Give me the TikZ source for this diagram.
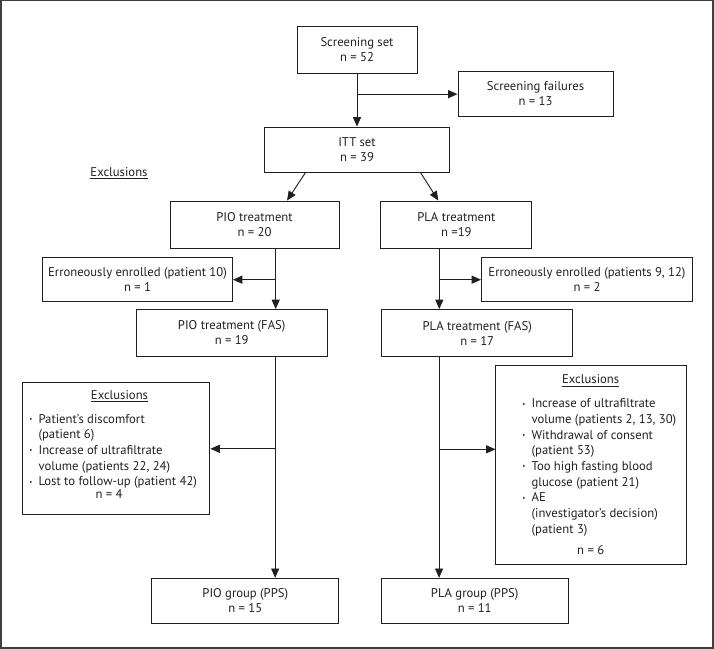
\documentclass[tikz,border=0pt]{standalone}
\usepackage{fontspec}
\setmainfont{PT Sans}
\usetikzlibrary{positioning,arrows.meta,calc}
\definecolor{ink}{HTML}{231F20}
\definecolor{rim}{HTML}{404040}
\newcommand{\blt}{\makebox[7pt][l]{\raisebox{1.2pt}{\fontsize{5}{5}\selectfont •}}}
\newcommand{\ind}{\hspace*{7pt}}
\tikzset{wh/.style 2 args={minimum width=#1*0.75pt,minimum height=#2*0.75pt}}

\begin{document}
\begin{tikzpicture}[x=0.75pt,y=-0.75pt,color=ink,font=\fontsize{9.5}{11.25}\selectfont]
  \tikzstyle{box}=[rectangle,draw,line width=0.7pt,align=center,inner sep=2pt]
  \tikzstyle{ar}=[line width=0.7pt,-{Triangle[length=7pt,width=6pt]}]
  \tikzstyle{lst}=[anchor=north west,align=left,inner sep=0pt,font=\fontsize{9.5}{11.75}\selectfont]
  \useasboundingbox (0,0) rectangle (714,649);
  \draw[rim,line width=1.5pt] (1,0.5) rectangle (713,648);
  % top part
  \node[box,wh={120}{47}] (scr) at (357,49.5) {Screening set\\n = 52};
  \node[box,wh={155}{45}] (fail) at (535.5,94) {Screening failures\\n = 13};
  \node[box,wh={185}{45}] (itt) at (357,149.5) {ITT set\\n = 39};
  \node (exhd) at (119,173) {\underline{Exclusions}};
  \node[box,wh={169}{47}] (pio) at (254.5,224.5) {PIO treatment\\n = 20};
  \node[box,wh={151}{47}] (pla) at (456.3,224.5) {PLA treatment\\n =19};
  \node[box,wh={190}{44}] (errL) at (137.5,279.7) {Erroneously enrolled (patient 10)\\n = 1};
  \node[box,wh={211}{44}] (errR) at (587,279.7) {Erroneously enrolled (patients 9, 12)\\n = 2};
  \node[box,wh={191}{47}] (fasL) at (231.7,333) {PIO treatment (FAS)\\n = 19};
  \node[box,wh={191}{47}] (fasR) at (477.2,333) {PLA treatment (FAS)\\n = 17};
  % exclusion boxes
  \node[box,wh={187.5}{132.3}] (exL) at (116.2,448.8) {};
  \node (exLhd) at (119.5,396) {\underline{Exclusions}};
  \node[lst] (exLls) at (29,414) {\blt Patient’s discomfort\\ \ind(patient 6)\\
    \blt Increase of ultrafiltrate\\ \ind volume (patients 22, 24)\\
    \blt Lost to follow-up (patient 42)};
  \node (exLn) at (109,494) {n = 4};
  \node[box,wh={190.7}{199}] (exR) at (591.3,464.5) {};
  \node (exRhd) at (590.7,380.7) {\underline{Exclusions}};
  \node[lst] (exRls) at (522,398.5) {\blt Increase of ultrafiltrate\\ \ind volume (patients 2, 13, 30)\\
    \blt Withdrawal of consent\\ \ind(patient 53)\\
    \blt Too high fasting blood\\ \ind glucose (patient 21)\\
    \blt AE\\ \ind(investigator’s decision)\\ \ind(patient 3)};
  \node (exRn) at (590.7,550) {n = 6};
  \node[box,wh={187}{45}] (ppsL) at (245.3,600.8) {PIO group (PPS)\\n = 15};
  \node[box,wh={187}{45}] (ppsR) at (474.7,600.8) {PLA group (PPS)\\n = 11};
  % connectors
  \draw[ar] (scr) -- (itt);
  \coordinate (jn) at ($(scr.south)!0.39!(itt.north)$);
  \draw[ar] (jn) -- (jn -| fail.west);
  \draw[ar] ([xshift=-38.6pt]itt.south) -- ([xshift=24.4pt]pio.north);
  \draw[ar] ([xshift=47.6pt]itt.south) -- ([xshift=-13.5pt]pla.north);
  \coordinate (tl1) at ([xshift=15.9pt]pio.south);
  \draw[ar] (tl1) -- (tl1 |- fasL.north);
  \draw[ar] (tl1 |- errL.east) -- (errL.east);
  \coordinate (tl2) at ([xshift=32.6pt]fasL.south);
  \draw[ar] (tl2) -- (tl2 |- ppsL.north);
  \draw[ar] (tl2 |- exL.east) -- (exL.east);
  \coordinate (tr1) at ([xshift=-12.75pt]pla.south);
  \draw[ar] (tr1) -- (tr1 |- fasR.north);
  \draw[ar] (tr1 |- errR.west) -- (errR.west);
  \coordinate (tr2) at ([xshift=-28.6pt]fasR.south);
  \draw[ar] (tr2) -- (tr2 |- ppsR.north);
  \coordinate (exin) at ([yshift=11.4pt]exR.west);
  \draw[ar] (tr2 |- exin) -- (exin);
\end{tikzpicture}
\end{document}
